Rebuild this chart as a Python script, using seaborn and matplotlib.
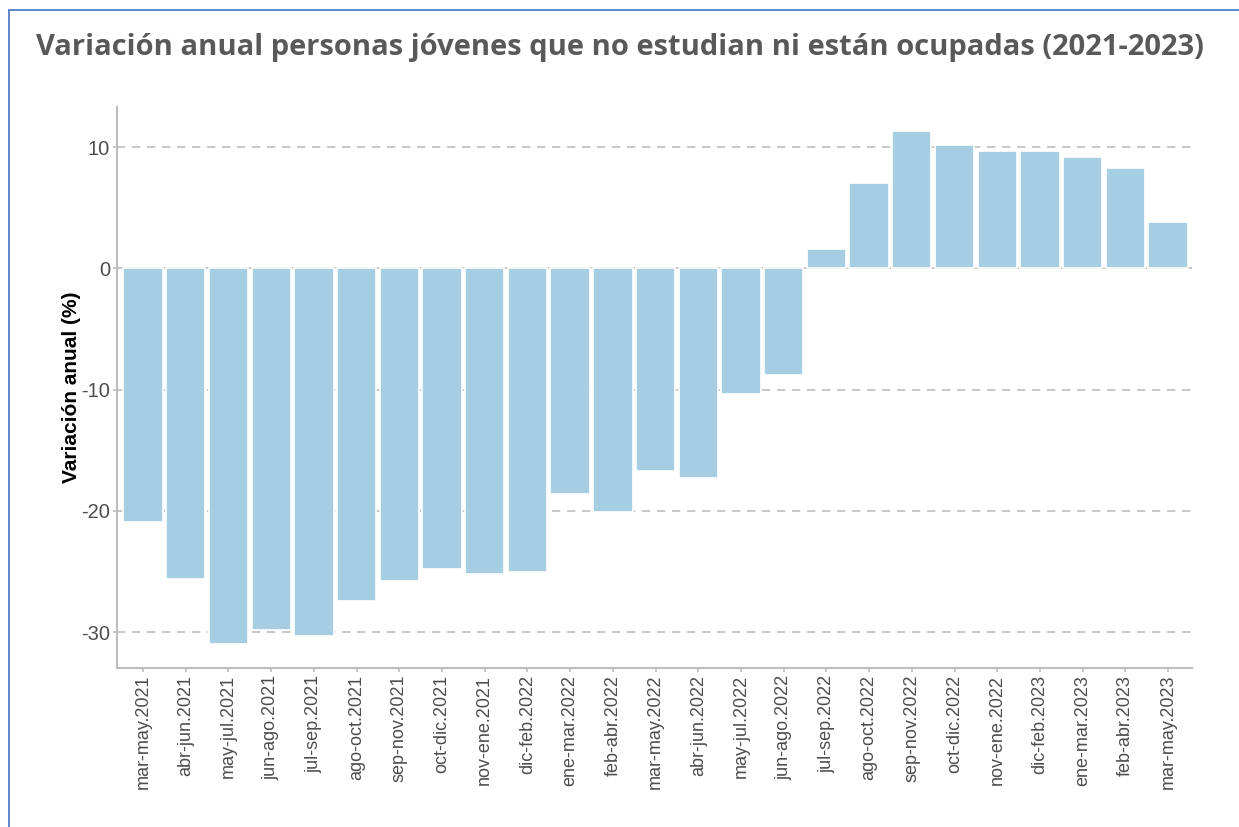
import matplotlib
matplotlib.use("Agg")
import matplotlib.pyplot as plt
import seaborn as sns
import pandas as pd
from matplotlib.lines import Line2D

periodos = ['mar-may.2021', 'abr-jun.2021', 'may-jul.2021', 'jun-ago.2021', 'jul-sep.2021',
            'ago-oct.2021', 'sep-nov.2021', 'oct-dic.2021', 'nov-ene.2021', 'dic-feb.2022',
            'ene-mar.2022', 'feb-abr.2022', 'mar-may.2022', 'abr-jun.2022', 'may-jul.2022',
            'jun-ago.2022', 'jul-sep.2022', 'ago-oct.2022', 'sep-nov.2022', 'oct-dic.2022',
            'nov-ene.2022', 'dic-feb.2023', 'ene-mar.2023', 'feb-abr.2023', 'mar-may.2023']
variacion = [-20.9, -25.6, -31.0, -29.8, -30.3,
             -27.4, -25.8, -24.8, -25.2, -25.0,
             -18.6, -20.1, -16.7, -17.3, -10.4,
             -8.8, 1.6, 7.0, 11.3, 10.2,
             9.7, 9.7, 9.2, 8.3, 3.8]
y_ticks = [-30, -20, -10, 0, 10]

df = pd.DataFrame({'periodo': periodos, 'variacion': variacion})

sns.set_style('white')
plt.rcParams['font.family'] = ['Liberation Sans', 'DejaVu Sans']

fig = plt.figure(figsize=(12.39, 8.27), dpi=100)
ax = fig.add_axes([0.0944, 0.1923, 0.8677, 0.6783])

grid_color = '#bdbdbd'
for t in y_ticks:
    if t == 0:
        ax.axhline(t, color=grid_color, lw=1.2, zorder=0)
    else:
        ax.axhline(t, color=grid_color, lw=1.2, ls=(0, (5, 4)), zorder=0)

sns.barplot(data=df, x='periodo', y='variacion', color='#a6cee3', saturation=1,
            width=0.92, edgecolor='white', linewidth=1.2, ax=ax, zorder=2)

ax.set_xlim(-0.61, len(periodos) - 1 + 0.56)
ax.set_ylim(-32.95, 13.3)
ax.set_yticks(y_ticks)
ax.set_yticklabels([str(t) for t in y_ticks], fontsize=14.5, color='#4d4d4d')
ax.set_xticks(range(len(periodos)))
ax.set_xticklabels(periodos, rotation=90, fontsize=13, color='#4d4d4d')
ax.set_xlabel('')
ax.set_ylabel('Variación anual (%)', fontsize=15, fontweight='bold', color='black')
ax.yaxis.set_label_coords(-0.033, 0.5)
ax.tick_params(axis='both', length=3, width=1.2, color=grid_color, pad=2, left=True, bottom=True)

for s in ['top', 'right']:
    ax.spines[s].set_visible(False)
for s in ['left', 'bottom']:
    ax.spines[s].set_color(grid_color)
    ax.spines[s].set_linewidth(1.5)

fig.text(0.5, 0.943, 'Variación anual personas jóvenes que no estudian ni están ocupadas (2021-2023)',
         ha='center', va='center', fontsize=21, fontweight='bold', color='#595959',
         family=['Open Sans', 'DejaVu Sans'])

# marco azul
fig.add_artist(Line2D([9 / 1239, 9 / 1239], [0, 1 - 10 / 827], color='#4472c4', lw=1.2))
fig.add_artist(Line2D([9 / 1239, 1], [1 - 10 / 827, 1 - 10 / 827], color='#4472c4', lw=1.2))

fig.savefig('out.png', dpi=100)
